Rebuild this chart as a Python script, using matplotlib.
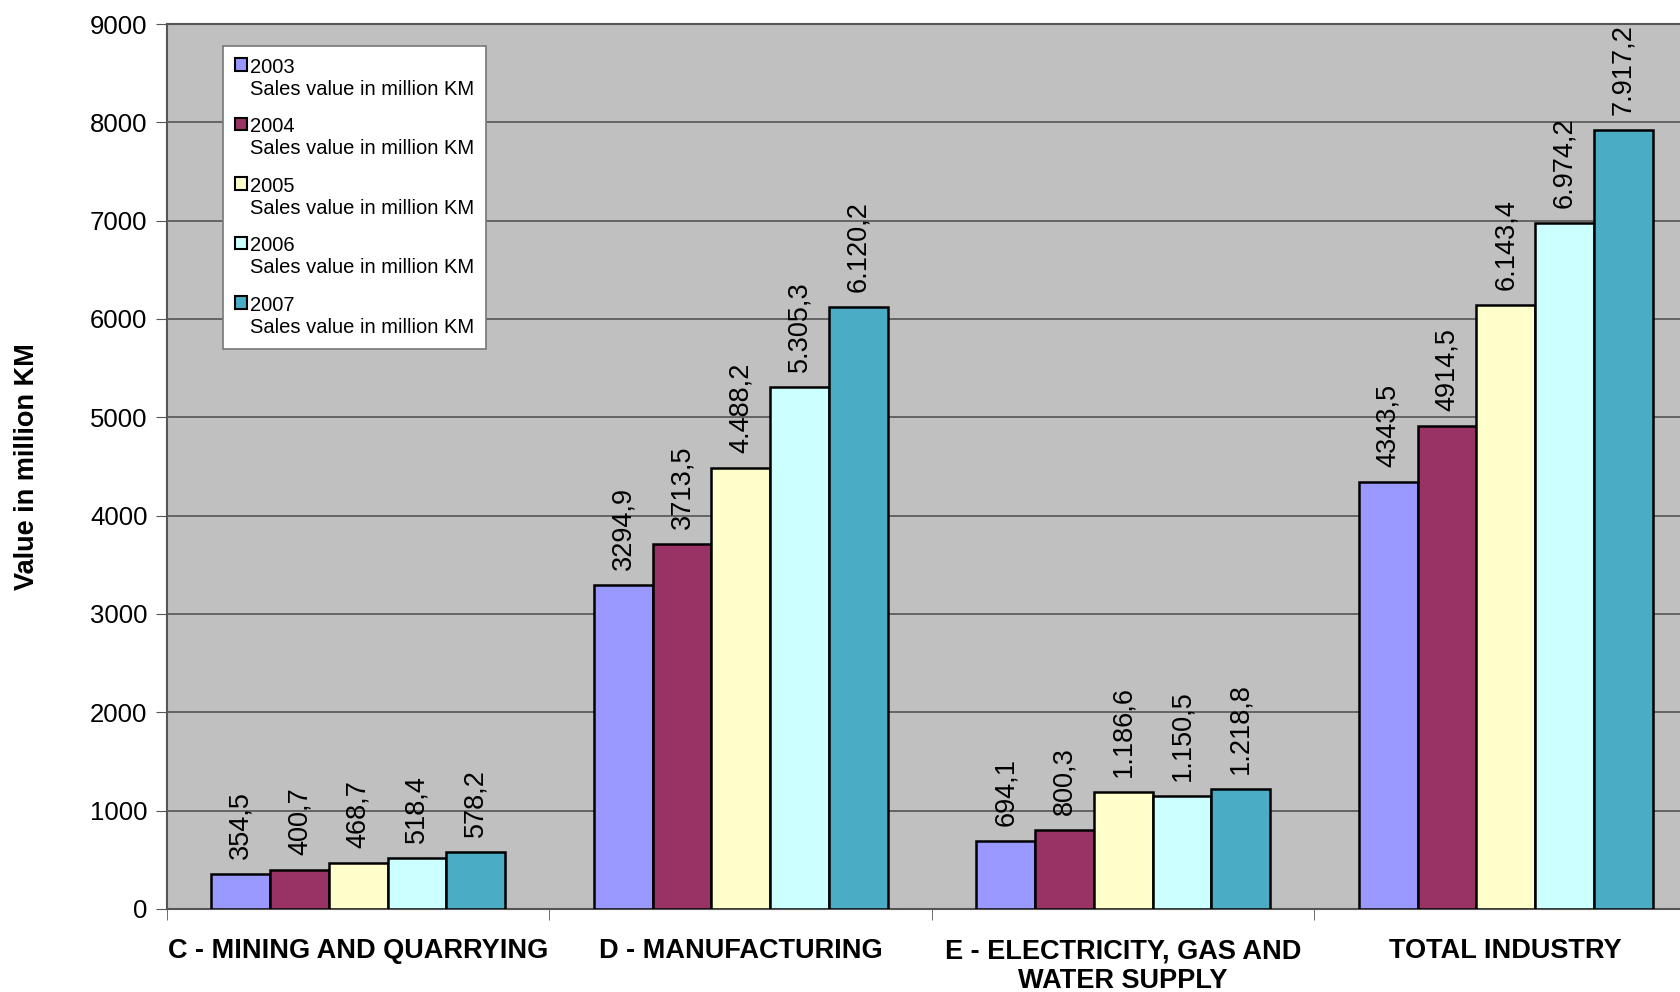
import matplotlib.pyplot as plt
from matplotlib.patches import Patch, Rectangle
from matplotlib.legend_handler import HandlerPatch
import numpy as np

plt.rcParams['font.family'] = ['Liberation Sans', 'DejaVu Sans']

categories = ['C - MINING AND QUARRYING', 'D - MANUFACTURING',
              'E - ELECTRICITY, GAS AND\nWATER SUPPLY', 'TOTAL INDUSTRY']
years = ['2003', '2004', '2005', '2006', '2007']
values = {
    '2003': [354.5, 3294.9, 694.1, 4343.5],
    '2004': [400.7, 3713.5, 800.3, 4914.5],
    '2005': [468.7, 4488.2, 1186.6, 6143.4],
    '2006': [518.4, 5305.3, 1150.5, 6974.2],
    '2007': [578.2, 6120.2, 1218.8, 7917.2],
}
labels = {
    '2003': ['354,5', '3294,9', '694,1', '4343,5'],
    '2004': ['400,7', '3713,5', '800,3', '4914,5'],
    '2005': ['468,7', '4.488,2', '1.186,6', '6.143,4'],
    '2006': ['518,4', '5.305,3', '1.150,5', '6.974,2'],
    '2007': ['578,2', '6.120,2', '1.218,8', '7.917,2'],
}
colors = ['#9999FF', '#993366', '#FFFFCC', '#CCFFFF', '#4BACC6']

fig = plt.figure(figsize=(16.8, 9.92), dpi=100)
ax = fig.add_axes([0.0994, 0.0837, 0.9107, 0.8921])
ax.set_facecolor('#C0C0C0')

x = np.arange(len(categories))
w = 0.1535
for i, yr in enumerate(years):
    pos = x + (i - 2) * w
    ax.bar(pos, values[yr], w, color=colors[i], edgecolor='black',
           linewidth=1.8, zorder=3)
    for px, v, lab in zip(pos, values[yr], labels[yr]):
        ax.annotate(lab, (px, v), xytext=(0, 15), textcoords='offset pixels',
                    rotation=90, ha='center', va='bottom', fontsize=19.5)

ax.set_xlim(-0.5, 3.5)
ax.set_ylim(0, 9000)
ax.set_yticks(range(0, 9001, 1000))
ax.yaxis.grid(True, color='#555555', linewidth=1.2, zorder=0)
ax.set_axisbelow(True)
ax.tick_params(axis='y', labelsize=18.5, length=8, color='#555555', pad=6)

ax.set_xticks(x)
ax.set_xticklabels(categories, fontsize=19.5, fontweight='bold')
ax.tick_params(axis='x', length=0, pad=21)
ax.set_xticks(np.arange(-0.5, 4.0, 1.0), minor=True)
ax.tick_params(axis='x', which='minor', length=8, color='#555555')

for s in ['left', 'bottom', 'top', 'right']:
    ax.spines[s].set_color('#555555')
    ax.spines[s].set_linewidth(1.5)

ax.set_ylabel('Value in million KM', fontsize=19.5, fontweight='bold', labelpad=36)


# legend square sits next to the first line of each two-line label
def top_square(legend, orig_handle, xdescent, ydescent, width, height, fontsize):
    return Rectangle((-xdescent, -ydescent + 0.7 * fontsize), width, height)


handles = [Patch(facecolor=c, edgecolor='black', linewidth=1.5) for c in colors]
leg_labels = [yr + '\nSales value in million KM' for yr in years]
leg = ax.legend(handles, leg_labels, loc='upper left',
                bbox_to_anchor=(0.0297, 0.987), fontsize=14.5, frameon=True,
                fancybox=False, edgecolor='#777777', framealpha=1,
                handlelength=0.6, handleheight=0.6, handletextpad=0.15,
                labelspacing=0.92, borderpad=0.6,
                handler_map={Patch: HandlerPatch(patch_func=top_square)})
leg.get_frame().set_linewidth(1.2)

fig.savefig('out.png', dpi=100)
